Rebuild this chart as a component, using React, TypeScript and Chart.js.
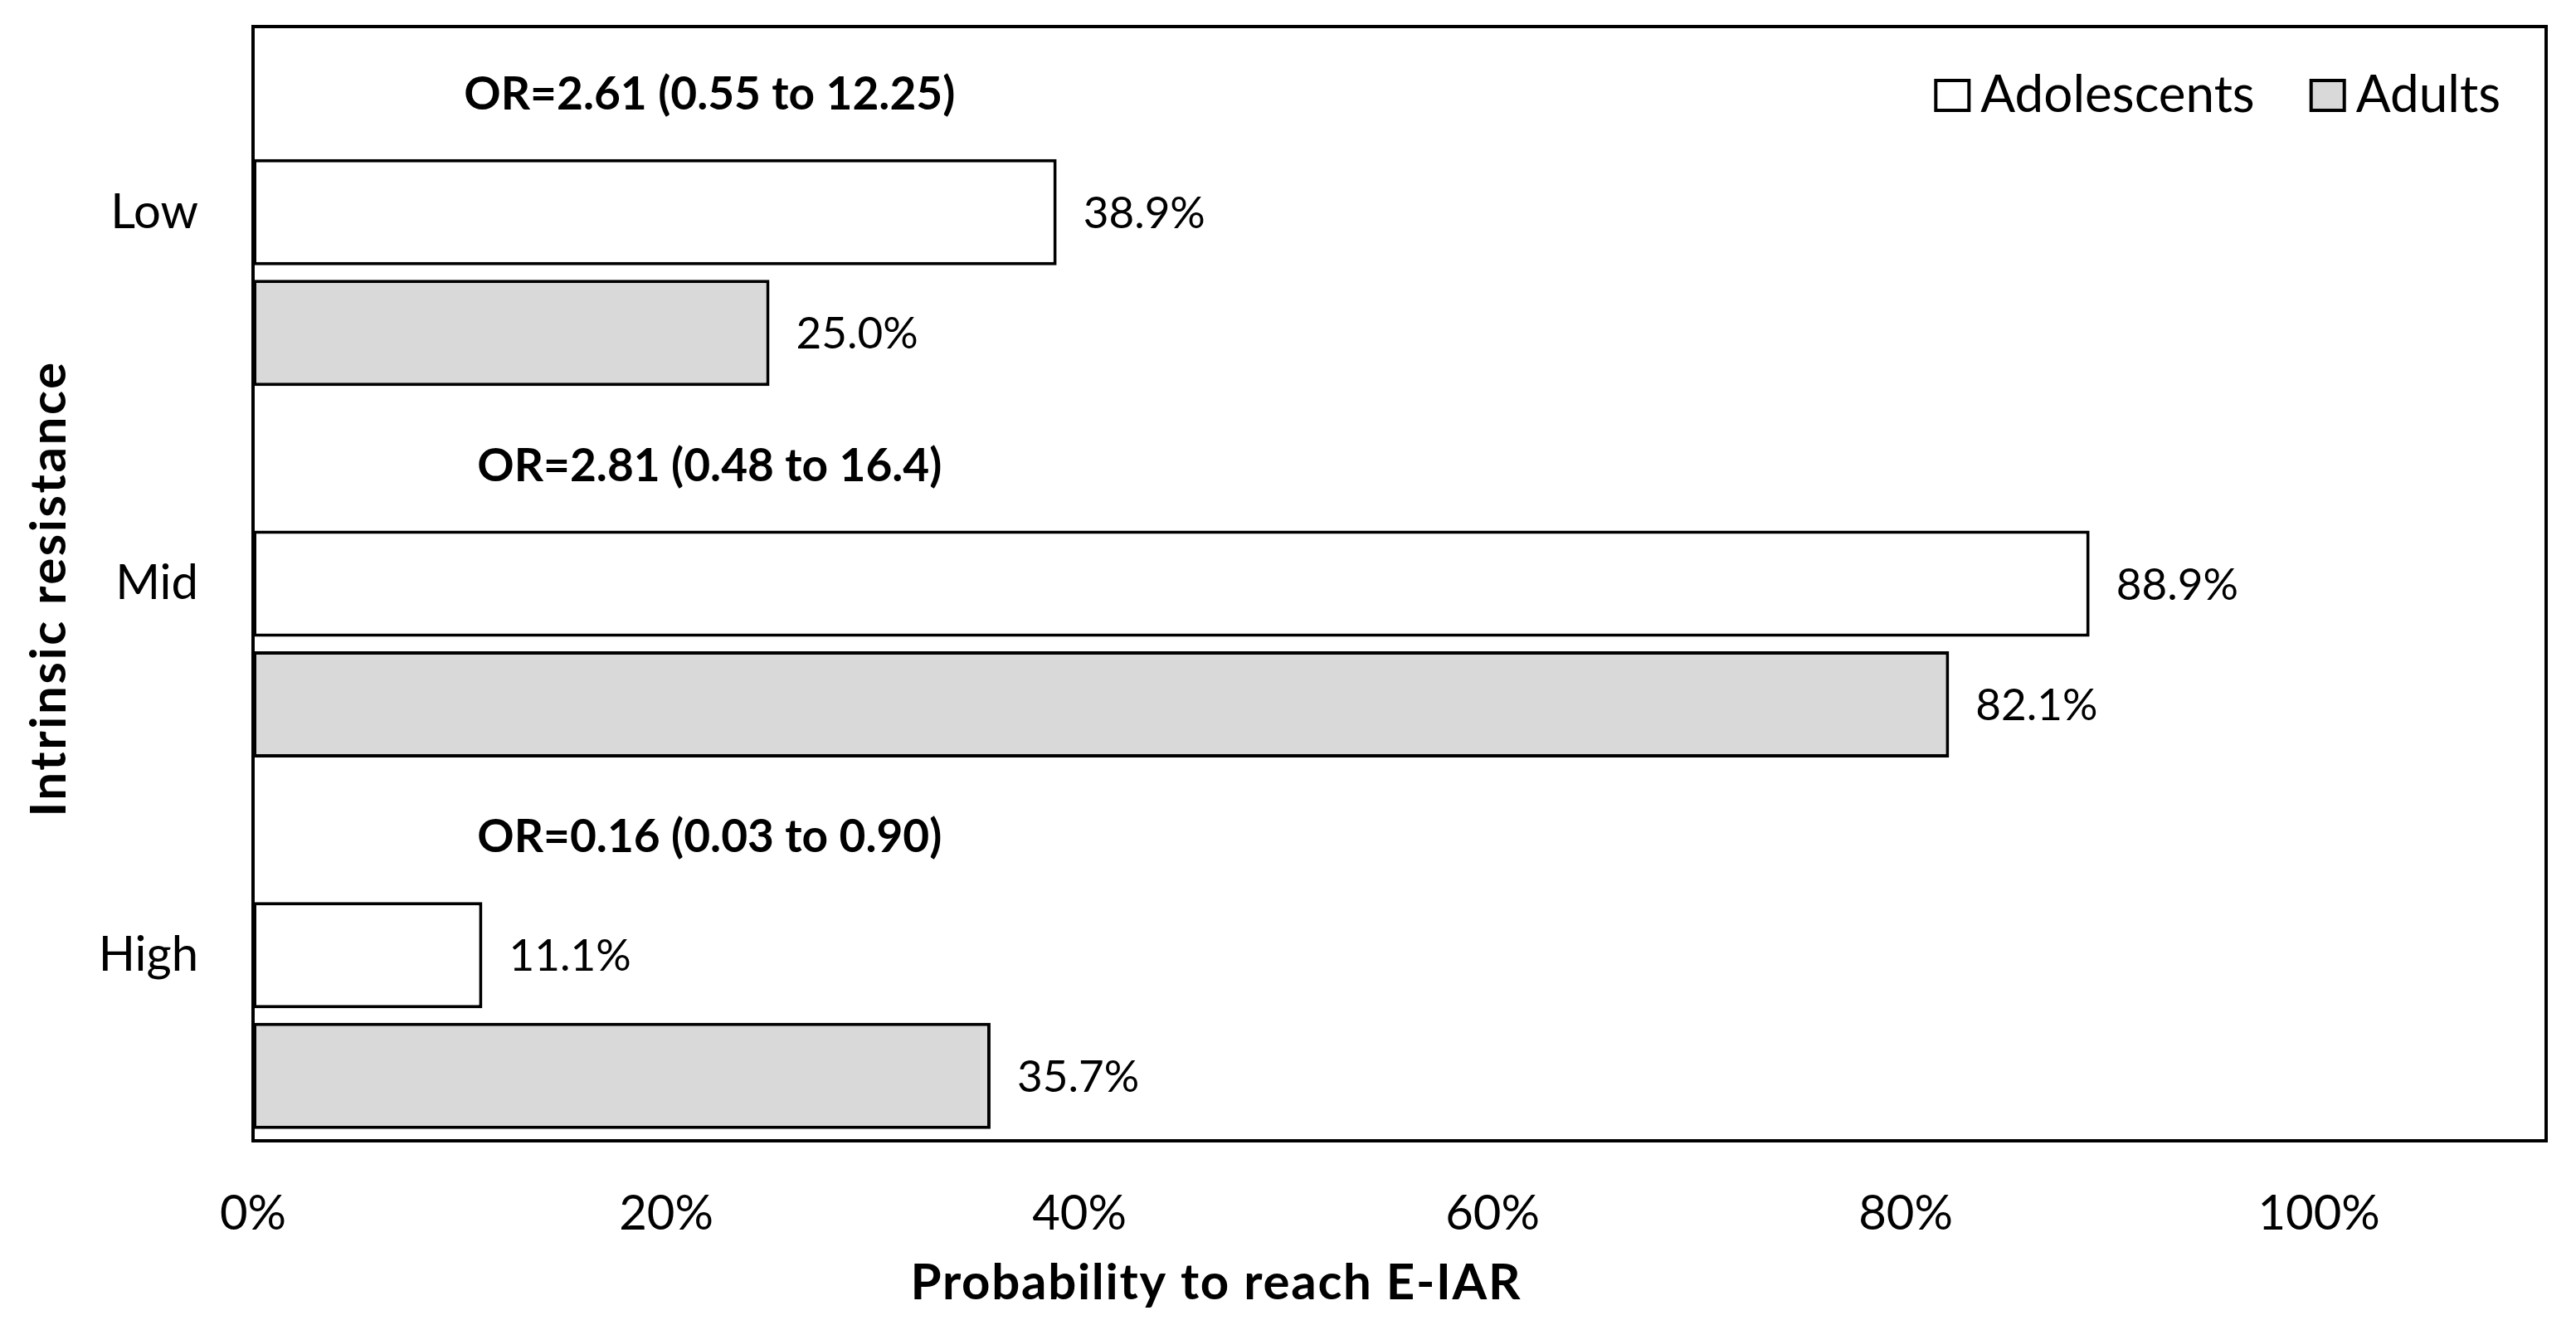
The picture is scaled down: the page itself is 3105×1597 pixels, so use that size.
import React, { useEffect, useRef } from 'react';
import { Chart, registerables } from 'chart.js';

Chart.register(...registerables);

// ---- data ----
const categories = ['Low', 'Mid', 'High'];
const seriesNames = ['Adolescents', 'Adults'];
const adolescents = [0.389, 0.889, 0.111];
const adults = [0.25, 0.821, 0.357];
const orLabels = [
  'OR=2.61 (0.55 to 12.25)',
  'OR=2.81 (0.48 to 16.4)',
  'OR=0.16 (0.03 to 0.90)',
];
const orPlaceholder = [0, 0, 0];
const xTickValues = [0, 0.2, 0.4, 0.6, 0.8, 1.0];
const xAxisTitle = 'Probability to reach E-IAR';
const yAxisTitle = 'Intrinsic resistance';

// ---- styles ----
const FONT = 'Lato, "Open Sans", "DejaVu Sans", sans-serif';
const ADOL_FILL = '#FFFFFF';
const ADULT_FILL = '#D9D9D9';
const EDGE = '#000000';

const pct = (v: number) => (v * 100).toFixed(1) + '%';

const annotatePlugin = {
  id: 'annotate',
  afterDatasetsDraw(chart: any) {
    const { ctx, scales } = chart;
    const xs = scales.x;
    ctx.save();
    // value labels
    ctx.fillStyle = '#000';
    ctx.font = `53px ${FONT}`;
    ctx.textAlign = 'left';
    ctx.textBaseline = 'middle';
    [1, 2].forEach((di) => {
      const meta = chart.getDatasetMeta(di);
      meta.data.forEach((el: any, i: number) => {
        const v = chart.data.datasets[di].data[i] as number;
        ctx.fillText(pct(v), el.x + 32, el.y + 2);
      });
    });
    // OR labels
    ctx.font = `bold 55px ${FONT}`;
    ctx.textAlign = 'center';
    const orMeta = chart.getDatasetMeta(0);
    orMeta.data.forEach((el: any, i: number) => {
      ctx.fillText(orLabels[i], xs.getPixelForValue(0.221), el.y + 4);
    });
    ctx.restore();
  },
  afterDraw(chart: any) {
    const { ctx, chartArea } = chart;
    ctx.save();
    // plot border
    ctx.strokeStyle = EDGE;
    ctx.lineWidth = 4;
    ctx.strokeRect(chartArea.left, chartArea.top, chartArea.right - chartArea.left, chartArea.bottom - chartArea.top);

    // legend
    ctx.font = `62px ${FONT}`;
    ctx.textBaseline = 'middle';
    ctx.textAlign = 'left';
    const boxW = 40, boxH = 36, gapText = 14, gapItem = 68;
    const w0 = ctx.measureText(seriesNames[0]).width;
    const w1 = ctx.measureText(seriesNames[1]).width;
    const total = boxW + gapText + w0 + gapItem + boxW + gapText + w1;
    let x = chartArea.right - 55 - total;
    const cy = chartArea.top + 81;
    const fills = [ADOL_FILL, ADULT_FILL];
    [w0, w1].forEach((w, i) => {
      ctx.fillStyle = fills[i];
      ctx.fillRect(x, cy - boxH / 2 + 2, boxW, boxH);
      ctx.lineWidth = 4;
      ctx.strokeStyle = EDGE;
      ctx.strokeRect(x, cy - boxH / 2 + 2, boxW, boxH);
      ctx.fillStyle = '#000';
      ctx.fillText(seriesNames[i], x + boxW + gapText, cy + 2);
      x += boxW + gapText + w + gapItem;
    });

    // axis titles
    ctx.font = `bold 60px ${FONT}`;
    ctx.textAlign = 'center';
    ctx.fillStyle = '#000';
    (ctx as any).letterSpacing = '1.7px';
    ctx.fillText(xAxisTitle, chartArea.left + (chartArea.right - chartArea.left) * 0.42, chartArea.bottom + 172);
    (ctx as any).letterSpacing = '2.6px';
    ctx.translate(60, (chartArea.top + chartArea.bottom) / 2 + 6);
    ctx.rotate(-Math.PI / 2);
    ctx.fillText(yAxisTitle, 0, 0);
    ctx.restore();
  },
};

export default function App() {
  const ref = useRef<HTMLCanvasElement | null>(null);

  useEffect(() => {
    document.body.style.margin = '0';
    const canvas = ref.current;
    if (!canvas) return;
    const chart = new Chart(canvas, {
      type: 'bar',
      data: {
        labels: categories,
        datasets: [
          {
            label: 'OR',
            data: orPlaceholder,
            backgroundColor: 'rgba(0,0,0,0)',
            borderWidth: 0,
          },
          {
            label: seriesNames[0],
            data: adolescents,
            backgroundColor: ADOL_FILL,
            borderColor: EDGE,
            borderWidth: 4,
            borderSkipped: false,
          },
          {
            label: seriesNames[1],
            data: adults,
            backgroundColor: ADULT_FILL,
            borderColor: EDGE,
            borderWidth: 4,
            borderSkipped: false,
          },
        ],
      },
      options: {
        indexAxis: 'y',
        animation: false,
        responsive: true,
        maintainAspectRatio: false,
        devicePixelRatio: 1,
        datasets: {
          bar: { categoryPercentage: 0.975, barPercentage: 0.88 },
        },
        layout: { padding: { left: 0, top: 32, right: 36, bottom: 0 } },
        plugins: {
          legend: { display: false },
          title: { display: false },
          tooltip: { enabled: false },
        },
        scales: {
          x: {
            type: 'linear',
            min: 0,
            max: 1.11,
            grid: { display: false, drawTicks: false },
            border: { display: false },
            afterBuildTicks(scale: any) {
              scale.ticks = xTickValues.map((v) => ({ value: v }));
            },
            afterFit(scale: any) {
              scale.height = 222;
              scale.paddingLeft = 0;
              scale.paddingRight = 0;
            },
            ticks: {
              padding: 53,
              color: '#000',
              font: { family: FONT, size: 58 },
              callback: (v: any) => Math.round(Number(v) * 100) + '%',
            },
          },
          y: {
            type: 'category',
            grid: { display: false, drawTicks: false },
            border: { display: false },
            afterFit(scale: any) {
              scale.width = 305;
              scale.paddingTop = 0;
              scale.paddingBottom = 0;
            },
            ticks: {
              padding: 66,
              color: '#000',
              font: { family: FONT, size: 58 },
            },
          },
        },
      },
      plugins: [annotatePlugin],
    });
    return () => chart.destroy();
  }, []);

  return (
    <div style={{ width: '3105px', height: '1597px', position: 'relative', background: '#fff' }}>
      <canvas ref={ref} />
    </div>
  );
}
